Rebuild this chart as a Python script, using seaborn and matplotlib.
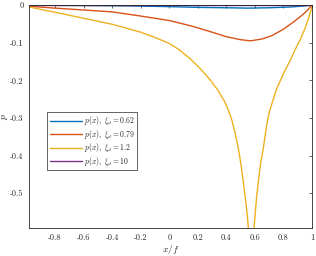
import pandas as pd
import matplotlib.pyplot as plt
import seaborn as sns

# curve samples
x_062 = [-0.98, -0.6, -0.3, 0.0, 0.2, 0.4, 0.55, 0.7, 0.85, 0.95, 1.0]
p_062 = [0.0, -0.001, -0.002, -0.004, -0.006, -0.007, -0.008, -0.007, -0.005, -0.002, 0.0]

x_079 = [-0.98, -0.8, -0.6, -0.4, -0.2, 0.0, 0.15, 0.3, 0.4, 0.5, 0.57,
         0.65, 0.72, 0.8, 0.87, 0.93, 0.97, 1.0]
p_079 = [-0.003, -0.008, -0.013, -0.018, -0.029, -0.041, -0.055, -0.072, -0.084,
         -0.092, -0.095, -0.090, -0.081, -0.064, -0.045, -0.027, -0.013, 0.0]

x_12 = [-0.98, -0.8, -0.6, -0.4, -0.2, -0.1, 0.0, 0.063, 0.145, 0.215, 0.285,
        0.34, 0.39, 0.415, 0.437, 0.46, 0.484, 0.50, 0.519, 0.535, 0.547, 0.554,
        0.565, 0.585, 0.594, 0.603, 0.612, 0.624, 0.64, 0.659, 0.68, 0.70,
        0.75, 0.8, 0.85, 0.88, 0.916, 0.95, 0.98, 1.0]
p_12 = [-0.005, -0.019, -0.035, -0.051, -0.072, -0.086, -0.102, -0.117, -0.142,
        -0.168, -0.198, -0.226, -0.258, -0.28, -0.304, -0.338, -0.381, -0.418,
        -0.47, -0.52, -0.56, -0.593, -0.68, -0.68, -0.593, -0.55, -0.51, -0.47,
        -0.42, -0.381, -0.325, -0.285, -0.225, -0.182, -0.145, -0.12, -0.093,
        -0.063, -0.03, -0.004]

x_10 = [-0.98, -0.5, 0.0, 0.5, 1.0]
p_10 = [0.0, 0.0, 0.0, 0.0, 0.0]

labels = [r"$p(x),\ \xi_d = 0.62$", r"$p(x),\ \xi_d = 0.79$",
          r"$p(x),\ \xi_d = 1.2$", r"$p(x),\ \xi_d = 10$"]
colors = ["#0072BD", "#D95319", "#EDB120", "#7E2F8E"]

xticks = [-0.8, -0.6, -0.4, -0.2, 0, 0.2, 0.4, 0.6, 0.8, 1]
xtick_labels = ["-0.8", "-0.6", "-0.4", "-0.2", "0", "0.2", "0.4", "0.6", "0.8", "1"]
yticks = [0, -0.1, -0.2, -0.3, -0.4, -0.5]
ytick_labels = ["0", "-0.1", "-0.2", "-0.3", "-0.4", "-0.5"]

frames = []
for xs, ps, lab in zip([x_062, x_079, x_12, x_10], [p_062, p_079, p_12, p_10], labels):
    frames.append(pd.DataFrame({"x": xs, "p": ps, "curve": lab}))
df = pd.concat(frames, ignore_index=True)

sns.set_style("white")
plt.rcParams["font.family"] = ["cmr10", "DejaVu Serif"]
plt.rcParams["mathtext.fontset"] = "cm"
plt.rcParams["axes.unicode_minus"] = False

fig = plt.figure(figsize=(3.16, 2.56), dpi=100)
ax = fig.add_axes([0.0918, 0.109, 0.8955, 0.871])

sns.lineplot(data=df, x="x", y="p", hue="curve", hue_order=labels,
             palette=colors, estimator=None, sort=False, linewidth=1.0, ax=ax)

ax.set_xlim(-0.983, 1.0)
ax.set_ylim(-0.593, 0.0)
ax.set_xticks(xticks)
ax.set_xticklabels(xtick_labels)
ax.set_yticks(yticks)
ax.set_yticklabels(ytick_labels)
ax.tick_params(direction="in", length=2, width=0.5, labelsize=6,
               top=True, right=True, colors="#262626", pad=4)
for sp in ax.spines.values():
    sp.set_linewidth(0.6)
    sp.set_color("#262626")

ax.set_xlabel(r"$x/f$", fontsize=7, labelpad=1)
ax.set_ylabel(r"$p$", fontsize=7, labelpad=0)

leg = ax.legend(loc="upper left", bbox_to_anchor=(0.065, 0.52), borderaxespad=0,
                fontsize=5.5, handlelength=4.2, handletextpad=0.3,
                labelspacing=0.05, borderpad=0.3, frameon=True, fancybox=False,
                framealpha=1, edgecolor="#262626")
leg.get_frame().set_linewidth(0.5)

fig.savefig("out.png", dpi=100)
